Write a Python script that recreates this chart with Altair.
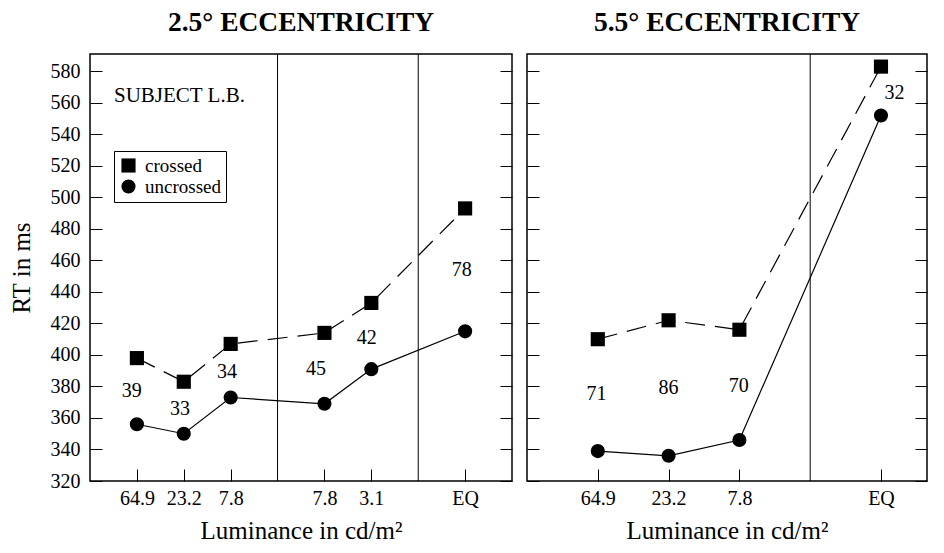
import altair as alt
import pandas as pd

FONT = "Liberation Serif"

# ---------------- data ----------------
conditions = ["crossed", "uncrossed"]
y_ticks = [320, 340, 360, 380, 400, 420, 440, 460, 480, 500, 520, 540, 560, 580]
Y_DOMAIN = [320, 591]

# 2.5 deg eccentricity
left_pos = [1, 2, 3, 5, 6, 8]
left_ticklabels = ["64.9", "23.2", "7.8", "7.8", "3.1", "EQ"]
left_crossed = [398, 383, 407, 414, 433, 493]
left_uncrossed = [356, 350, 373, 369, 391, 415]
left_n = ["39", "33", "34", "45", "42", "78"]
left_n_x = [0.89, 1.92, 2.92, 4.82, 5.9, 7.93]
left_n_y = [377, 366, 389, 391, 411, 454]
left_dividers = [4, 7]

# 5.5 deg eccentricity
right_pos = [1, 2, 3, 5]
right_ticklabels = ["64.9", "23.2", "7.8", "EQ"]
right_crossed = [410, 422, 416, 583]
right_uncrossed = [339, 336, 346, 552]
right_n = ["71", "86", "70", "32"]
right_n_x = [0.98, 2.0, 2.99, 5.19]
right_n_y = [375, 379, 380, 566]
right_dividers = [4]

TICK = 12


def panel(pos, ticklabels, crossed, uncrossed, n, nx, ny, dividers, xmax,
          width, title, first):
    df = pd.DataFrame({
        "pos": pos + pos,
        "rt": crossed + uncrossed,
        "cond": [conditions[0]] * len(pos) + [conditions[1]] * len(pos),
    })
    label_arr = [""] * (int(xmax) + 2)
    for p, l in zip(pos, ticklabels):
        label_arr[p] = l
    expr = "[" + ",".join("'%s'" % s for s in label_arr) + "][datum.value]"

    xs = alt.Scale(domain=[0, xmax], nice=False, zero=False)
    ys = alt.Scale(domain=Y_DOMAIN, nice=False, zero=False)

    x_axis = alt.Axis(values=pos, labelExpr=expr, title="Luminance in cd/m²",
                      offset=-TICK, tickSize=TICK, labelPadding=7,
                      titlePadding=10)
    y_left = alt.Axis(values=y_ticks, orient="left", offset=-TICK,
                      tickSize=TICK, labels=first, labelPadding=10,
                      title="RT in ms" if first else None, titlePadding=16)
    y_right = alt.Axis(values=y_ticks, orient="right", offset=-TICK,
                       tickSize=TICK, labels=False, title=None)

    def X(f):
        return alt.X(f, scale=xs, axis=x_axis)

    def Y(f):
        return alt.Y(f, scale=ys, axis=y_left)

    base = alt.Chart(df)
    crossed_line = base.transform_filter(alt.datum.cond == conditions[0]).mark_line(
        color="black", strokeWidth=1.2, strokeDash=[20, 10]
    ).encode(x=X("pos:Q"), y=Y("rt:Q"))
    uncrossed_line = base.transform_filter(alt.datum.cond == conditions[1]).mark_line(
        color="black", strokeWidth=1.2
    ).encode(x=X("pos:Q"), y=Y("rt:Q"))

    legend = None
    if first:
        legend = alt.Legend(orient="none", legendX=24, legendY=97, title=None,
                            strokeColor="black", fillColor="white", padding=5,
                            labelFont=FONT, labelFontSize=19, labelColor="black",
                            symbolSize=200, symbolFillColor="black",
                            symbolStrokeColor="black", symbolStrokeWidth=0,
                            symbolOpacity=1, rowPadding=1, labelOffset=7,
                            cornerRadius=0)
    points = base.mark_point(filled=True, color="black", size=200, opacity=1).encode(
        x=X("pos:Q"), y=Y("rt:Q"),
        shape=alt.Shape("cond:N",
                        scale=alt.Scale(domain=conditions, range=["square", "circle"]),
                        legend=legend),
    )
    div = alt.Chart(pd.DataFrame({"d": dividers})).mark_rule(
        color="black", strokeWidth=1
    ).encode(x=X("d:Q"))

    nums = alt.Chart(pd.DataFrame({"x": nx, "y": ny, "t": n})).mark_text(
        font=FONT, fontSize=20, color="black", baseline="middle", align="center"
    ).encode(x=X("x:Q"), y=Y("y:Q"), text="t:N")

    layers = [div, crossed_line, uncrossed_line, points, nums]
    if first:
        subj = alt.Chart(pd.DataFrame({"t": ["SUBJECT L.B."]})).mark_text(
            font=FONT, fontSize=21, color="black", align="left", baseline="alphabetic"
        ).encode(x=alt.value(24), y=alt.value(48), text="t:N")
        layers.append(subj)
    inner = alt.layer(*layers)

    right_ax = alt.Chart(pd.DataFrame({"v": [Y_DOMAIN[0]]})).mark_point(opacity=0).encode(
        y=alt.Y("v:Q", scale=ys, axis=y_right))

    return alt.layer(inner, right_ax).resolve_axis(y="independent").properties(
        width=width, height=427,
        title=alt.TitleParams(title, font=FONT, fontSize=27.5, fontWeight="bold",
                              color="black", offset=17, anchor="middle"),
    )


left = panel(left_pos, left_ticklabels, left_crossed, left_uncrossed, left_n,
             left_n_x, left_n_y, left_dividers, 9, 422, "2.5° ECCENTRICITY", True)
right = panel(right_pos, right_ticklabels, right_crossed, right_uncrossed, right_n,
              right_n_x, right_n_y, right_dividers, 5.65, 400, "5.5° ECCENTRICITY", False)

chart = alt.hconcat(left, right, spacing=11).resolve_scale(
    x="independent", y="independent", shape="independent"
).resolve_legend(shape="independent").properties(
    padding={"left": 0, "top": 0, "right": 0, "bottom": 0}
).configure_view(
    stroke="black", strokeWidth=1.5
).configure_axis(
    domain=False, grid=False, tickColor="black", tickWidth=1,
    labelFont=FONT, labelFontSize=20, labelColor="black",
    titleFont=FONT, titleFontSize=25, titleFontWeight="normal", titleColor="black",
)

chart.save("out.html", embed_options={"renderer": "svg", "actions": False})
